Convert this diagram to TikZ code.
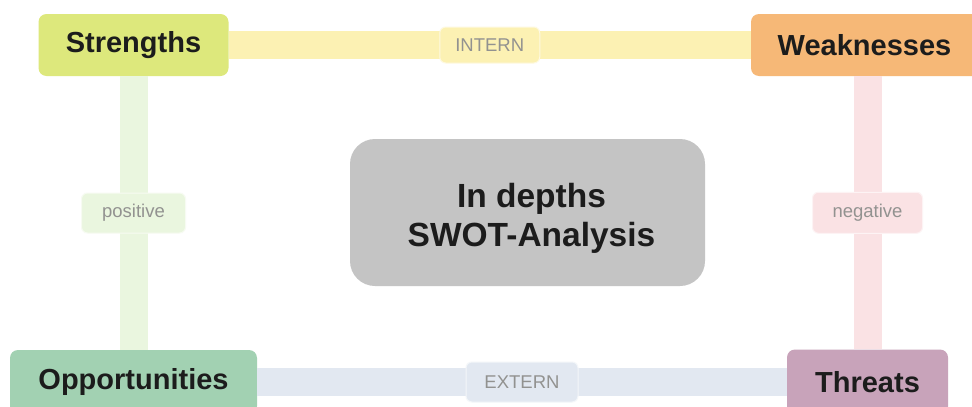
\documentclass[tikz,border=0pt]{standalone}
\usepackage{fontspec}
\setmainfont{Liberation Sans}
\definecolor{sCol}{HTML}{DDE87C}
\definecolor{wCol}{HTML}{F6B877}
\definecolor{oCol}{HTML}{A2D1B2}
\definecolor{tCol}{HTML}{C8A3BA}
\definecolor{cCol}{HTML}{C4C4C4}
\definecolor{internCol}{HTML}{FCF1B3}
\definecolor{externCol}{HTML}{E2E8F1}
\definecolor{posCol}{HTML}{EAF6DF}
\definecolor{negCol}{HTML}{FAE2E4}
\definecolor{txtCol}{HTML}{1C1C1C}
\definecolor{lblCol}{HTML}{929290}
\tikzset{
  quad/.style={rounded corners=8pt, inner sep=0pt, text=txtCol,
    font=\fontsize{29}{33}\selectfont\bfseries},
  band/.style={line width=28pt},
  lbl/.style={rounded corners=6pt, inner sep=0pt, text=lblCol,
    font=\fontsize{18.5}{22}\selectfont, line width=1pt},
}
\begin{document}
\begin{tikzpicture}[x=1pt, y=-1pt]
  \useasboundingbox (0,0) rectangle (972,407);
  \fill[white] (0,0) rectangle (972,407);
  \clip (0,0) rectangle (972,407);

  % the four quadrant boxes
  \node[quad, fill=sCol, minimum width=190pt, minimum height=62pt] (S) at (133.5,45) {Strengths};
  \node[quad, fill=wCol, minimum width=233pt, minimum height=62pt] (W) at (867.5,45) {\hspace*{-6pt}Weaknesses};
  \node[quad, fill=oCol, minimum width=247pt, minimum height=64pt] (O) at (133.5,382) {Opportunities};
  \node[quad, fill=tCol, minimum width=161pt, minimum height=65pt] (T) at (867.5,382) {Threats};

  % central box and its title
  \node[rounded corners=25pt, fill=cCol, minimum width=355pt, minimum height=147pt,
        inner sep=0pt] (C) at (527.5,212.5) {};
  \node[text=txtCol, align=center, inner sep=0pt,
        font=\fontsize{33.5}{39}\selectfont\bfseries] (ct) at ([shift={(4,6)}]C.center)
        {In depths\\SWOT-Analysis};

  % connecting bands with their labels
  \draw[band, internCol] (S) -- node[lbl, fill=internCol, draw=internCol!40, minimum width=100pt, minimum height=36pt] (li) {INTERN} (W);
  \draw[band, externCol] (O) -- node[lbl, fill=externCol, draw=externCol!40, minimum width=112pt, minimum height=40pt] (le) {EXTERN} (T);
  \draw[band, posCol] (S) -- node[lbl, fill=posCol, draw=posCol!40, minimum width=104pt, minimum height=40pt] (lp) {positive} (O);
  \draw[band, negCol] (W) -- node[lbl, fill=negCol, draw=negCol!40, minimum width=110pt, minimum height=41pt] (ln) {negative} (T);
\end{tikzpicture}
\end{document}
